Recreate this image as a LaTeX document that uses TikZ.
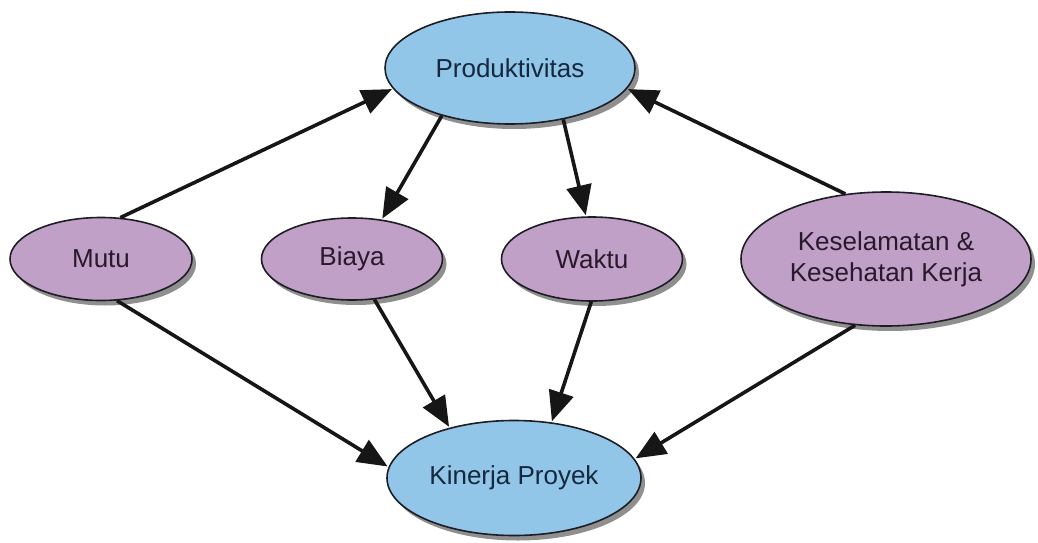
\documentclass[tikz,border=0pt]{standalone}
\usepackage{fontspec}
\setmainfont{Liberation Sans}
\usetikzlibrary{shapes.geometric,arrows.meta,shadows}
\definecolor{bluefill}{RGB}{145,198,232}
\definecolor{purplefill}{RGB}{192,160,198}
\definecolor{edgecol}{RGB}{30,28,36}
\definecolor{bluetext}{RGB}{22,40,62}
\definecolor{purpletext}{RGB}{42,24,44}
\definecolor{arrowcol}{RGB}{22,22,22}
\tikzset{
  oval/.style={ellipse, draw=edgecol, line width=1.6pt, inner sep=0pt, align=center,
    font=\fontsize{26}{31}\selectfont,
    drop shadow={shadow xshift=4pt, shadow yshift=-5pt, fill=black!55, opacity=0.8}},
  bluenode/.style={oval, fill=bluefill, text=bluetext},
  purplenode/.style={oval, fill=purplefill, text=purpletext},
  link/.style={draw=arrowcol, line width=3.6pt, -{Triangle[length=30pt,width=25pt]}, shorten >=1pt}
}
\begin{document}
\begin{tikzpicture}[x=1pt,y=-1pt]
\useasboundingbox (0,0) rectangle (1038,543);
\node[bluenode, minimum width=250pt, minimum height=112pt] (prod) at (510,68) {Produktivitas};
\node[bluenode, minimum width=254pt, minimum height=115pt] (kin) at (514,478) {Kinerja Proyek};
\node[purplenode, minimum width=182pt, minimum height=83pt] (mutu) at (101,259) {Mutu};
\node[purplenode, minimum width=181pt, minimum height=82pt] (biaya) at (352,259) {Biaya};
\node[purplenode, minimum width=181pt, minimum height=84pt] (waktu) at (592,259) {Waktu};
\node[purplenode, minimum width=290pt, minimum height=134pt] (k3) at (886,259) {Keselamatan \&\\Kesehatan Kerja};
\draw[link] (mutu.65) -- (prod.190);
\draw[link] (k3.122) -- (prod.350);
\draw[link] (prod.215) -- (biaya.53);
\draw[link] (prod.316) -- (waktu.98);
\draw[link] (mutu.291) -- (kin.175);
\draw[link] (biaya.299) -- (kin.142);
\draw[link] (waktu.269) -- (kin.56);
\draw[link] (k3.245) -- (kin.9);
\end{tikzpicture}
\end{document}
